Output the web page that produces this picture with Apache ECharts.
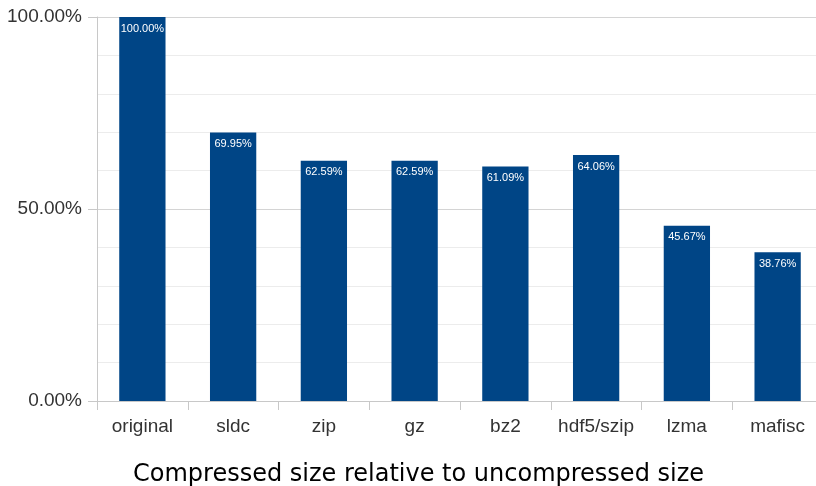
<!DOCTYPE html>
<html>
<head>
<meta charset="utf-8">
<script src="https://cdn.jsdelivr.net/npm/echarts@6/dist/echarts.min.js"></script>
<style>
  html, body { margin: 0; padding: 0; background: #fff; }
  #chart { width: 816px; height: 486px; }
</style>
</head>
<body>
<div id="chart"></div>
<script>
// Compression methods and resulting size as percent of the uncompressed data
const categories = ['original', 'sldc', 'zip', 'gz', 'bz2', 'hdf5/szip', 'lzma', 'mafisc'];
const relativeSize = [100.00, 69.95, 62.59, 62.59, 61.09, 64.06, 45.67, 38.76];
const yTicks = [0, 50, 100];

const chart = echarts.init(document.getElementById('chart'), null, { renderer: 'canvas' });

const pct = v => v.toFixed(2) + '%';

chart.setOption({
  animation: false,
  backgroundColor: '#ffffff',
  title: {
    text: 'Compressed size relative to uncompressed size',
    left: 128,
    top: 458,
    textStyle: { fontFamily: 'DejaVu Sans', fontSize: 24, fontWeight: 'normal', color: '#000' }
  },
  grid: { left: 97, width: 726, top: 17, height: 384, containLabel: false, outerBoundsMode: 'none' },
  xAxis: {
    type: 'category',
    data: categories,
    axisLine: { lineStyle: { color: '#c8c8c8', width: 1 } },
    axisTick: { show: true, alignWithLabel: false, length: 9, lineStyle: { color: '#c8c8c8' } },
    axisLabel: { interval: 0, margin: 16, fontFamily: 'Liberation Sans', fontSize: 19, color: '#333' }
  },
  yAxis: [
    {
      // fine grid every 10 %
      type: 'value', min: 0, max: 100, interval: 10,
      axisLine: { show: true, lineStyle: { color: '#c8c8c8' } },
      axisTick: { show: false },
      axisLabel: { show: false },
      splitLine: { lineStyle: { color: ['#d4d4d4', '#ececec', '#ececec', '#ececec', '#ececec'], width: 1 } }
    },
    {
      // labelled major ticks
      type: 'value', min: 0, max: 100, interval: 50, position: 'left',
      axisLine: { show: false },
      axisTick: { show: true, length: 9, lineStyle: { color: '#c8c8c8' } },
      axisLabel: {
        margin: 15, fontFamily: 'Liberation Sans', fontSize: 19, color: '#333',
        formatter: v => yTicks.includes(v) ? pct(v) : ''
      },
      splitLine: { show: false }
    }
  ],
  series: [{
    type: 'bar',
    yAxisIndex: 0,
    data: relativeSize,
    barWidth: '51%',
    itemStyle: { color: '#004586' },
    label: {
      show: true,
      position: 'insideTop',
      distance: 6,
      formatter: p => pct(p.value),
      fontFamily: 'Liberation Sans',
      fontSize: 11,
      color: '#ffffff'
    }
  }]
});
</script>
</body>
</html>
